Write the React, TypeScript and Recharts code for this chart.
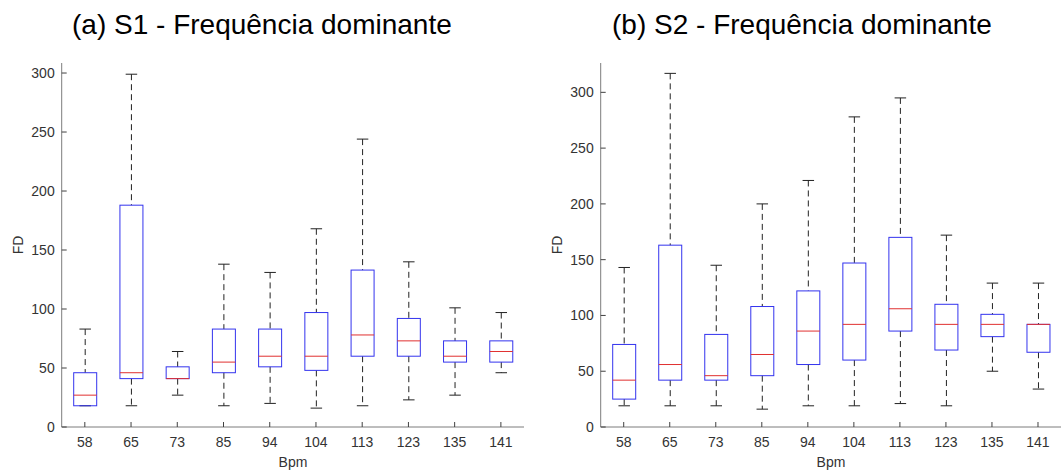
import { Bar, ComposedChart, XAxis, YAxis } from 'recharts'

const bpm = ['58', '65', '73', '85', '94', '104', '113', '123', '135', '141']

// S1 - dominant frequency
const s1Min = [18, 18, 27, 18, 20, 16, 18, 23, 27, 46]
const s1Q1 = [18, 41, 41, 46, 51, 48, 60, 60, 55, 55]
const s1Med = [27, 46, 41, 55, 60, 60, 78, 73, 60, 64]
const s1Q3 = [46, 188, 51, 83, 83, 97, 133, 92, 73, 73]
const s1Max = [83, 299, 64, 138, 131, 168, 244, 140, 101, 97]

// S2 - dominant frequency
const s2Min = [19, 19, 19, 16, 19, 19, 21, 19, 50, 34]
const s2Q1 = [25, 42, 42, 46, 56, 60, 86, 69, 81, 67]
const s2Med = [42, 56, 46, 65, 86, 92, 106, 92, 92, 92]
const s2Q3 = [74, 163, 83, 108, 122, 147, 170, 110, 101, 92]
const s2Max = [143, 317, 145, 200, 221, 278, 295, 172, 129, 129]

const yTicks = [0, 50, 100, 150, 200, 250, 300]

const FRAME = '#7d7d7d'
const TICK = '#404040'
const FONT = '"Liberation Sans", Arial, sans-serif'

type Row = { bpm: string; min: number; q1: number; med: number; q3: number; max: number }

const build = (mn: number[], q1: number[], md: number[], q3: number[], mx: number[]): Row[] =>
  bpm.map((b, i) => ({ bpm: b, min: mn[i], q1: q1[i], med: md[i], q3: q3[i], max: mx[i] }))

const s1Data = build(s1Min, s1Q1, s1Med, s1Q3, s1Max)
const s2Data = build(s2Min, s2Q1, s2Med, s2Q3, s2Max)

// the bar spans min..max, so the pixel scale comes from the bar itself
function BoxShape(props: any) {
  const { x, y, width, height, payload } = props
  const { min, q1, med, q3, max } = payload as Row
  const k = height / (max - min)
  const py = (v: number) => y + (max - v) * k
  const cx = x + width / 2
  const cap = width / 2
  return (
    <g>
      <line x1={cx} x2={cx} y1={py(max)} y2={py(q3)} stroke="#222" strokeWidth={1} strokeDasharray="6 4" />
      <line x1={cx} x2={cx} y1={py(q1)} y2={py(min)} stroke="#222" strokeWidth={1} strokeDasharray="6 4" />
      <line x1={cx - cap / 2} x2={cx + cap / 2} y1={py(max)} y2={py(max)} stroke="#222" strokeWidth={1} />
      <line x1={cx - cap / 2} x2={cx + cap / 2} y1={py(min)} y2={py(min)} stroke="#222" strokeWidth={1} />
      <rect x={x} y={py(q3)} width={width} height={py(q1) - py(q3)} fill="none" stroke="#3333ee" strokeWidth={1} />
      <line x1={x} x2={x + width} y1={py(med)} y2={py(med)} stroke="#e03030" strokeWidth={1} />
    </g>
  )
}

function BoxPanel({ data, yMax, marginLeft, marginRight, width }: { data: Row[]; yMax: number; marginLeft: number; marginRight: number; width: number }) {
  const axisProps = { stroke: FRAME, tickSize: -5, tickLine: { stroke: TICK } }
  return (
    <ComposedChart width={width} height={475} data={data} margin={{ top: 63, right: marginRight, bottom: 18, left: marginLeft }}>
      <XAxis dataKey="bpm" {...axisProps} height={30} tickMargin={15} tick={{ fill: '#333', fontSize: 14, fontFamily: FONT }} />
      <XAxis xAxisId="top" dataKey="bpm" orientation="top" {...axisProps} height={0} tick={false} />
      <YAxis domain={[0, yMax]} ticks={yTicks} {...axisProps} width={40} tickMargin={12} tick={{ fill: '#333', fontSize: 14, fontFamily: FONT }} />
      <YAxis yAxisId="r" orientation="right" domain={[0, yMax]} ticks={yTicks} {...axisProps} width={0} tick={false} />
      <Bar dataKey={(d: Row) => [d.min, d.max]} barSize={23} shape={<BoxShape />} isAnimationActive={false} />
    </ComposedChart>
  )
}

export default function App() {
  return (
    <div style={{ position: 'absolute', left: 0, top: 0, width: 1061, height: 475, background: '#fff', overflow: 'hidden' }}>
      <div style={{ position: 'absolute', left: 0, top: 0 }}>
        <BoxPanel data={s1Data} yMax={308.5} marginLeft={21.7} marginRight={6} width={530} />
      </div>
      <div style={{ position: 'absolute', left: 530, top: 0 }}>
        <BoxPanel data={s2Data} yMax={326.3} marginLeft={30.7} marginRight={0} width={531} />
      </div>
      <svg width={1061} height={475} style={{ position: 'absolute', left: 0, top: 0, pointerEvents: 'none' }} fontFamily={FONT}>
        <text x={72} y={34} fontSize={28} fill="#000">(a) S1 - Frequência dominante</text>
        <text x={612} y={34} fontSize={28} fill="#000">(b) S2 - Frequência dominante</text>
        <text x={293} y={467} fontSize={14} fill="#333" textAnchor="middle">Bpm</text>
        <text x={831} y={467} fontSize={14} fill="#333" textAnchor="middle">Bpm</text>
        <text transform="translate(23,245) rotate(-90)" fontSize={14} fill="#333" textAnchor="middle">FD</text>
        <text transform="translate(562,245) rotate(-90)" fontSize={14} fill="#333" textAnchor="middle">FD</text>
      </svg>
    </div>
  )
}
